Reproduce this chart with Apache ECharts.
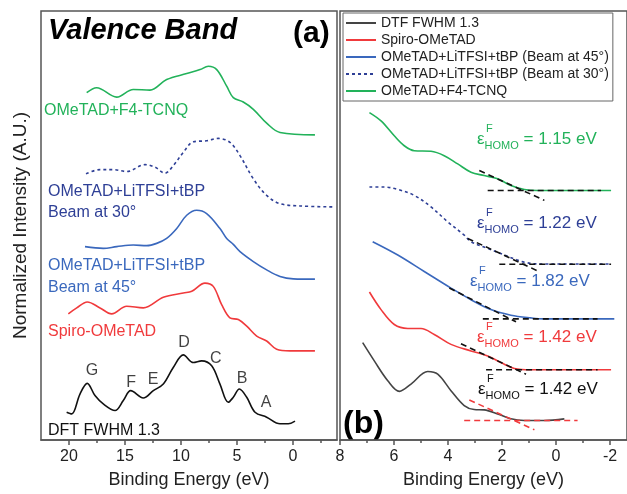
<!DOCTYPE html>
<html>
<head>
<meta charset="utf-8">
<script src="https://cdn.jsdelivr.net/npm/echarts@6/dist/echarts.min.js"></script>
<style>
  html, body { margin: 0; padding: 0; background: #fff; }
  #chart { width: 627px; height: 494px; }
</style>
</head>
<body>
<div id="chart"></div>
<script>
// ---- panel (a): full valence band, x = binding energy (eV), y = offset intensity
const dftA_x = [20.21, 19.76, 19.02, 18.37, 17.68, 16.94, 15.89, 15.15, 14.49, 13.37, 12.47, 11.58, 10.69, 9.79, 8.90, 8.15, 7.26, 6.52, 5.78, 5.33, 4.79, 4.13, 3.39, 2.35, 1.16, 0.42, -0.18]
const dftA_y = [28, 26.3, 46.3, 57, 44.7, 36.3, 29.7, 39.7, 49.7, 42.3, 49.7, 56.3, 73, 85.7, 78, 79.7, 74.7, 56.3, 38, 43, 51.3, 43, 28, 23, 16.3, 16.3, 19]
const spiroA_x = [20.06, 19.31, 18.37, 17.23, 16.19, 14.85, 13.37, 11.58, 9.79, 9.04, 7.86, 7.12, 6.37, 5.63, 4.88, 4.13, 3.24, 2.35, 1.46, 0.27, -1.96]
const spiroA_y = [127, 133, 139, 133, 127, 134.7, 133, 143.7, 148, 149.7, 158, 154.7, 136.3, 123, 121.3, 114.7, 104.7, 99.7, 91.3, 89.7, 89.7]
const b45A_x = [18.57, 16.94, 15.74, 14.26, 13.06, 12.17, 11.28, 10.38, 9.49, 8.60, 7.71, 6.52, 5.92, 5.33, 4.73, 3.54, 2.35, 1.16, -0.03, -1.96]
const b45A_y = [194.7, 193, 194.7, 196.3, 195.7, 198, 203, 213, 226.3, 231.3, 228, 213, 203, 197, 189.7, 179.7, 171.3, 164.7, 162.3, 162]
const b30A_x = [18.48, 17.23, 16.04, 14.85, 13.21, 12.32, 11.43, 10.69, 9.79, 8.90, 7.71, 6.67, 5.63, 4.73, 3.54, 2.35, 1.16, -0.63, -3.6]
const b30A_y = [268, 272.3, 272.3, 270.3, 277.3, 274.7, 268.7, 276.3, 289.7, 300.3, 301.3, 303.7, 299.7, 286.3, 263, 246.3, 238, 235.7, 234.7]
const f4A_x = [18.42, 17.53, 15.74, 14.26, 12.77, 11.28, 9.49, 8.30, 7.56, 6.81, 5.92, 5.33, 4.44, 3.54, 2.35, 1.16, -1.96]
const f4A_y = [349.7, 354.7, 345.3, 353, 352.3, 363, 369, 373, 376.3, 373, 356.3, 344.7, 340.3, 333, 319, 309.7, 307.3]

// peak letters on the DFT curve
const peakNames = ['G', 'F', 'E', 'D', 'C', 'B', 'A']
const peakX = [17.95, 14.46, 12.5, 9.73, 6.9, 4.55, 2.41]
const peakY = [70, 58, 61, 98, 82, 62, 38]

// ---- panel (b): valence band edge
const dftB_x = [7.16, 6.73, 6.23, 5.80, 5.37, 4.75, 4.38, 3.89, 3.40, 3.03, 2.66, 2.16, 1.67, 1.17, 0.43, -0.31]
const dftB_y = [98, 79.7, 59.7, 49, 56.3, 69, 66.3, 49.7, 34.7, 30.7, 30.3, 26.3, 21.3, 19.7, 19.7, 21.3]
const spiroB_x = [6.91, 6.48, 5.99, 5.49, 5.0, 4.51, 3.89, 3.15, 2.53, 2.04, 1.54, 0.93, -2.04]
const spiroB_y = [149, 131.3, 116.3, 112.3, 112.3, 106.3, 96.3, 89.7, 84.7, 78, 72, 70.7, 70.7]
const b45B_x = [6.79, 5.86, 4.88, 3.89, 3.15, 2.41, 1.67, 0.93, 0.43, -2.16]
const b45B_y = [199.7, 186.3, 169.7, 153, 141.3, 131.3, 125.7, 123, 122, 122]
const b30B_x = [6.91, 6.36, 5.86, 5.25, 4.63, 4.01, 3.40, 3.15, 2.53, 1.91, 1.54, 1.17, 0.68, -2.04]
const b30B_y = [254.7, 254.7, 252.3, 246.3, 234.7, 219.7, 206.3, 199.7, 193, 186.3, 182.3, 179, 177.3, 177.3]
const f4B_x = [6.91, 6.48, 5.99, 5.62, 5.25, 4.63, 4.14, 3.64, 3.15, 2.66, 2.16, 1.67, 1.17, 0.68, -2.04]
const f4B_y = [329.7, 321.3, 306.3, 296.3, 291.3, 290.7, 286.3, 278, 269.7, 266.3, 263, 256.3, 252.3, 251.3, 251.3]

// tangent construction lines [x1, y1, x2, y2]
const tanF4 = [[2.53, 251.3, -1.67, 251.3], [2.84, 271.3, 0.43, 241.3]]
const tanB30 = [[2.10, 177, -2.04, 177], [3.27, 203, 0.68, 170.3]]
const tanB45 = [[2.71, 122, -1.54, 122], [3.95, 153, 1.48, 119]]
const tanSpiro = [[2.59, 70.7, -1.54, 70.7], [3.52, 97, 1.11, 66.3]]
const tanDft = [[3.40, 19.7, -0.80, 19.7], [3.21, 40.3, 0.80, 10.3]]

const homoValues = ['1.15 eV', '1.22 eV', '1.82 eV', '1.42 eV', '1.42 eV']

const ticksA = [0, 5, 10, 15, 20]
const minorA = [-2.5, 2.5, 7.5, 12.5, 17.5]
const ticksB = [-2, 0, 2, 4, 6, 8]
const minorB = [-1, 1, 3, 5, 7]

const legendNames = ['DTF FWHM 1.3', 'Spiro-OMeTAD', 'OMeTAD+LiTFSI+tBP (Beam at 45°)', 'OMeTAD+LiTFSI+tBP (Beam at 30°)', 'OMeTAD+F4-TCNQ']

const FONT = '"Liberation Sans", Arial, sans-serif'
const GREEN = '#22b25a', RED = '#f03a3c', BLUE = '#3a68bd', DBLUE = '#2e3f96', GRAY = '#444'

const zip = (xs, ys) => xs.map((x, i) => [x, ys[i]])

function curve (name, xs, ys, color, idx, extra) {
  return Object.assign({
    name,
    type: 'line',
    xAxisIndex: idx === 0 ? 0 : 2,
    yAxisIndex: idx,
    data: zip(xs, ys),
    smooth: 0.35,
    symbol: 'none',
    showSymbol: false,
    silent: true,
    lineStyle: { color, width: 1.6 },
    itemStyle: { color },
    z: 3
  }, extra || {})
}

function tangents (name, segs, color) {
  return segs.map((s, i) => ({
    name: name + i,
    type: 'line',
    xAxisIndex: 2,
    yAxisIndex: 1,
    data: [[s[0], s[1]], [s[2], s[3]]],
    symbol: 'none',
    silent: true,
    lineStyle: { color, width: 1.6, type: [6, 4] },
    z: 4
  }))
}

function xAxisFor (grid, min, max, ticks, minor) {
  return [
    {
      type: 'value', gridIndex: grid, min, max, inverse: true, position: 'bottom',
      name: 'Binding Energy (eV)', nameLocation: 'middle', nameGap: 31,
      nameTextStyle: { fontFamily: FONT, fontSize: 18, color: '#222' },
      axisLine: { show: true, lineStyle: { color: '#555', width: 1.5 } },
      axisTick: { show: true, inside: false, length: 5, customValues: ticks, lineStyle: { color: '#555', width: 1.5 } },
      axisLabel: { show: true, customValues: ticks, margin: 9, fontFamily: FONT, fontSize: 16, color: '#222' },
      splitLine: { show: false }
    },
    {
      type: 'value', gridIndex: grid, min, max, inverse: true, position: 'bottom',
      axisLine: { show: false },
      axisTick: { show: true, inside: false, length: 3, customValues: minor, lineStyle: { color: '#555', width: 1.5 } },
      axisLabel: { show: false },
      splitLine: { show: false }
    }
  ]
}

function yAxisFor (grid, name) {
  return {
    type: 'value', gridIndex: grid, min: 0, max: 432,
    name, nameLocation: 'middle', nameGap: 11,
    nameTextStyle: { fontFamily: FONT, fontSize: 19, color: '#222' },
    axisLine: { show: false }, axisTick: { show: false },
    axisLabel: { show: false }, splitLine: { show: false }
  }
}

const chart = echarts.init(document.getElementById('chart'), null, { renderer: 'canvas' })

const series = [
  // panel (b) first so the legend picks these styles
  curve(legendNames[0], dftB_x, dftB_y, GRAY, 1),
  curve(legendNames[1], spiroB_x, spiroB_y, RED, 1),
  curve(legendNames[2], b45B_x, b45B_y, BLUE, 1),
  curve(legendNames[3], b30B_x, b30B_y, DBLUE, 1, { lineStyle: { color: DBLUE, width: 1.6, type: [3, 3] } }),
  curve(legendNames[4], f4B_x, f4B_y, GREEN, 1),
  ...tangents('tanF4', tanF4, '#111'),
  ...tangents('tanB30', tanB30, '#111'),
  ...tangents('tanB45', tanB45, '#111'),
  ...tangents('tanSpiro', tanSpiro, '#111'),
  ...tangents('tanDft', tanDft, RED),
  // panel (a)
  curve('a-dft', dftA_x, dftA_y, '#111', 0),
  curve('a-spiro', spiroA_x, spiroA_y, RED, 0),
  curve('a-b45', b45A_x, b45A_y, BLUE, 0),
  curve('a-b30', b30A_x, b30A_y, DBLUE, 0, { lineStyle: { color: DBLUE, width: 1.6, type: [3, 3] } }),
  curve('a-f4', f4A_x, f4A_y, GREEN, 0),
  {
    name: 'peaks',
    type: 'scatter',
    xAxisIndex: 0,
    yAxisIndex: 0,
    symbolSize: 0,
    silent: true,
    data: peakNames.map((n, i) => ({ name: n, value: [peakX[i], peakY[i]] })),
    label: { show: true, position: 'inside', formatter: p => p.name, fontFamily: FONT, fontSize: 16, color: '#111' }
  }
]

function plain (text, x, y, color, font, extra) {
  return Object.assign({
    type: 'text', x, y, silent: true,
    style: { text, fill: color, font, verticalAlign: 'middle', align: 'left' }
  }, extra || {})
}

function homo (value, x, y, color) {
  return [
    {
      type: 'text', x, y, silent: true,
      style: {
        text: '{e|ε}{s|HOMO}{v| = ' + value + '}',
        fill: color, verticalAlign: 'middle',
        rich: {
          e: { fontFamily: FONT, fontSize: 17, lineHeight: 24, fill: color },
          s: { fontFamily: FONT, fontSize: 11, lineHeight: 12, verticalAlign: 'bottom', fill: color },
          v: { fontFamily: FONT, fontSize: 17, lineHeight: 24, fill: color }
        }
      }
    },
    plain('F', x + 9, y - 10, color, '11px ' + FONT)
  ]
}

const f16 = '16px ' + FONT

chart.setOption({
  animation: false,
  backgroundColor: '#fff',
  grid: [
    { left: 41, right: 290, top: 11, bottom: 51, show: true, borderColor: '#555', borderWidth: 1.5, backgroundColor: 'transparent' },
    { left: 340, right: -2, top: 11, bottom: 51, show: true, borderColor: '#555', borderWidth: 1.5, backgroundColor: 'transparent' }
  ],
  xAxis: [
    ...xAxisFor(0, -3.93, 22.5, ticksA, minorA),
    ...xAxisFor(1, -2.63, 8, ticksB, minorB)
  ],
  yAxis: [
    yAxisFor(0, 'Normalized Intensity (A.U.)'),
    yAxisFor(1, '')
  ],
  legend: {
    data: legendNames,
    orient: 'vertical',
    left: 343,
    top: 13,
    padding: [3, 4, 3, 2],
    itemGap: 3,
    itemWidth: 30,
    itemHeight: 14,
    borderColor: '#666',
    borderWidth: 1,
    backgroundColor: '#fff',
    selectedMode: false,
    itemStyle: { opacity: 0 },
    textStyle: { fontFamily: FONT, fontSize: 14, color: '#222' }
  },
  graphic: [
    plain('Valence Band', 48, 31, '#000', 'italic bold 29px ' + FONT),
    plain('(a)', 293, 34, '#000', 'bold 30px ' + FONT),
    plain('(b)', 343, 424, '#000', 'bold 32px ' + FONT),
    plain('OMeTAD+F4-TCNQ', 44, 111, GREEN, f16),
    plain('OMeTAD+LiTFSI+tBP', 48, 192, DBLUE, f16),
    plain('Beam at 30°', 48, 213, DBLUE, f16),
    plain('OMeTAD+LiTFSI+tBP', 48, 266, BLUE, f16),
    plain('Beam at 45°', 48, 288, BLUE, f16),
    plain('Spiro-OMeTAD', 48, 332, RED, f16),
    plain('DFT FWHM 1.3', 48, 431, '#111', f16),
    ...homo(homoValues[0], 477, 139, GREEN),
    ...homo(homoValues[1], 477, 223, DBLUE),
    ...homo(homoValues[2], 470, 281, BLUE),
    ...homo(homoValues[3], 477, 337, RED),
    ...homo(homoValues[4], 478, 389, '#111')
  ],
  series
})
</script>
</body>
</html>
